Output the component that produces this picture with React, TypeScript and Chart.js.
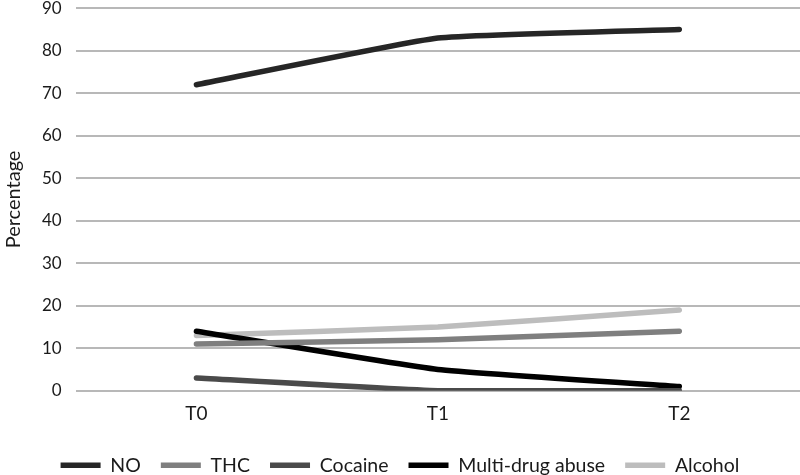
import React, { useEffect, useRef } from "react";
import { Chart, registerables } from "chart.js";
Chart.register(...registerables);

const categories = ["T0", "T1", "T2"];
const seriesNames = ["NO", "THC", "Cocaine", "Multi-drug abuse", "Alcohol"];
const noValues = [72, 83, 85];
const thcValues = [11, 12, 14];
const cocaineValues = [3, 0, 0];
const multiValues = [14, 5, 1];
const alcoholValues = [13, 15, 19];
const colors = ["#262626", "#7f7f7f", "#4a4a4a", "#000000", "#bdbdbd"];

const LEGEND_PAD = 20;
const LEGEND_SHRINK = 5;
const LEGEND_SHIFT = 2;

const legendTightPlugin = {
  id: "legendTight",
  beforeLayout(chart: any) {
    const lg = chart.legend;
    if (lg && !lg.__patched) {
      const orig = lg.fit.bind(lg);
      lg.fit = function () {
        orig();
        this.height -= LEGEND_SHRINK;
      };
      lg.__patched = true;
    }
  },
  afterLayout(chart: any) {
    const lg = chart.legend;
    if (lg) lg.top -= LEGEND_SHIFT;
  },
};

export default function App() {
  const ref = useRef<HTMLCanvasElement>(null);
  useEffect(() => {
    const values = [noValues, thcValues, cocaineValues, multiValues, alcoholValues];
    const font = "Lato";
    const chart = new Chart(ref.current!, {
      type: "line",
      data: {
        labels: categories,
        datasets: seriesNames.map((n, i) => ({
          label: n,
          data: values[i],
          borderColor: colors[i],
          backgroundColor: colors[i],
          borderWidth: 5.5,
          pointRadius: 0,
          tension: 0.12,
          borderCapStyle: "round" as const,
        })),
      },
      plugins: [legendTightPlugin],
      options: {
        animation: false,
        responsive: false,
        maintainAspectRatio: false,
        layout: { padding: { left: 0, right: 0, top: 0, bottom: -7 } },
        plugins: {
          tooltip: { enabled: false },
          legend: {
            position: "bottom",
            labels: {
              font: { family: font, size: 19.5 },
              color: "#1a1a1a",
              usePointStyle: true,
              pointStyle: "line",
              pointStyleWidth: 40,
              padding: LEGEND_PAD,
            },
          },
        },
        scales: {
          x: {
            offset: true,
            grid: { display: false, drawTicks: false },
            border: { display: false },
            ticks: { font: { family: font, size: 19 }, color: "#1a1a1a", padding: 12 },
          },
          y: {
            min: 0,
            max: 90,
            ticks: { stepSize: 10, font: { family: font, size: 17 }, color: "#1a1a1a", padding: 14 },
            grid: { color: "#b8b8b8", lineWidth: 2, drawTicks: false },
            border: { display: false },
            title: { display: true, text: "Percentage", font: { family: font, size: 20 }, color: "#1a1a1a", padding: 2 },
          },
        },
      },
    });
    return () => chart.destroy();
  }, []);
  return (
    <div style={{ position: "fixed", left: 0, top: -16, width: 800, height: 491, background: "#fff" }}>
      <canvas ref={ref} width={800} height={491} />
    </div>
  );
}
